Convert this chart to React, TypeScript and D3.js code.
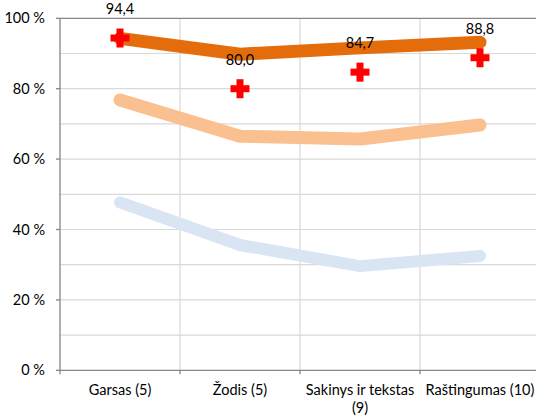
import React from "react";
import * as d3 from "d3";

const categories = ["Garsas (5)", "Žodis (5)", "Sakinys ir tekstas (9)", "Raštingumas (10)"];
const categoryLines = [["Garsas (5)"], ["Žodis (5)"], ["Sakinys ir tekstas", "(9)"], ["Raštingumas (10)"]];
const seriesHigh = [94.3, 89.8, 91.6, 93.2];
const seriesMid = [76.8, 66.5, 65.7, 69.7];
const seriesLow = [47.7, 35.6, 29.6, 32.5];
const markerValues = [94.4, 80.0, 84.7, 88.8];
const markerLabels = ["94,4", "80,0", "84,7", "88,8"];
const yTicks = [0, 20, 40, 60, 80, 100];
const yGrid = [10, 20, 30, 40, 50, 60, 70, 80, 90];

const W = 536;
const H = 418;
const FONT = "Lato, 'Open Sans', sans-serif";
const FS = 14.5;

export default function App() {
  const x = d3.scaleBand<string>().domain(categories).range([60, 540]).padding(0);
  const y = d3.scaleLinear().domain([0, 100]).range([370.3, 18.3]);
  const cx = (c: string) => (x(c) as number) + x.bandwidth() / 2;

  const line = d3
    .line<number>()
    .x((_, i) => cx(categories[i]))
    .y((v) => y(v));

  const boundaries = categories.slice(1).map((c) => x(c) as number);
  const series = [
    { vals: seriesLow, color: "#DAE5F4", w: 12 },
    { vals: seriesMid, color: "#FAC090", w: 13 },
    { vals: seriesHigh, color: "#E46C0A", w: 13 },
  ];

  const crossArm = 9.5;
  const crossT = 3.5;

  return (
    <svg width={W} height={H} style={{ position: "absolute", left: 0, top: 0, background: "#fff" }}>
      {yGrid.map((v) => (
        <line key={"g" + v} x1={60} x2={540} y1={y(v)} y2={y(v)} stroke="#D9D9D9" strokeWidth={1.2} />
      ))}
      {boundaries.map((bx) => (
        <line key={"v" + bx} x1={bx} x2={bx} y1={y(100)} y2={y(0)} stroke="#D9D9D9" strokeWidth={1.2} />
      ))}
      {series.map((s, i) => (
        <path
          key={"s" + i}
          d={line(s.vals) || ""}
          fill="none"
          stroke={s.color}
          strokeWidth={s.w}
          strokeLinecap="round"
          strokeLinejoin="round"
        />
      ))}
      {/* axes */}
      <line x1={60} x2={540} y1={y(100)} y2={y(100)} stroke="#868686" strokeWidth={1.3} />
      <line x1={60} x2={540} y1={y(0)} y2={y(0)} stroke="#868686" strokeWidth={1.3} />
      <line x1={60} x2={60} y1={y(100)} y2={y(0) + 4} stroke="#868686" strokeWidth={1.3} />
      {boundaries.map((bx) => (
        <line key={"t" + bx} x1={bx} x2={bx} y1={y(0)} y2={y(0) + 4} stroke="#868686" strokeWidth={1.3} />
      ))}
      {yTicks.map((v) => (
        <g key={"yt" + v}>
          <line x1={56} x2={60} y1={y(v)} y2={y(v)} stroke="#868686" strokeWidth={1.3} />
          <text x={45} y={y(v)} dy="0.35em" textAnchor="end" fontFamily={FONT} fontSize={FS} fill="#000">
            {v + " %"}
          </text>
        </g>
      ))}
      {categories.map((c, i) => (
        <text key={"xl" + c} textAnchor="middle" fontFamily={FONT} fontSize={FS} fill="#000">
          {categoryLines[i].map((ln, j) => (
            <tspan key={j} x={cx(c)} y={395 + j * 18}>
              {ln}
            </tspan>
          ))}
        </text>
      ))}
      {markerValues.map((v, i) => {
        const px = cx(categories[i]);
        const py = y(v);
        return (
          <g key={"m" + i}>
            <rect x={px - crossArm} y={py - crossT} width={crossArm * 2} height={crossT * 2} fill="#FF0000" />
            <rect x={px - crossT} y={py - crossArm} width={crossT * 2} height={crossArm * 2} fill="#FF0000" />
            <text x={px} y={py - 24} textAnchor="middle" fontFamily={FONT} fontSize={FS} fill="#000">
              {markerLabels[i]}
            </text>
          </g>
        );
      })}
    </svg>
  );
}
